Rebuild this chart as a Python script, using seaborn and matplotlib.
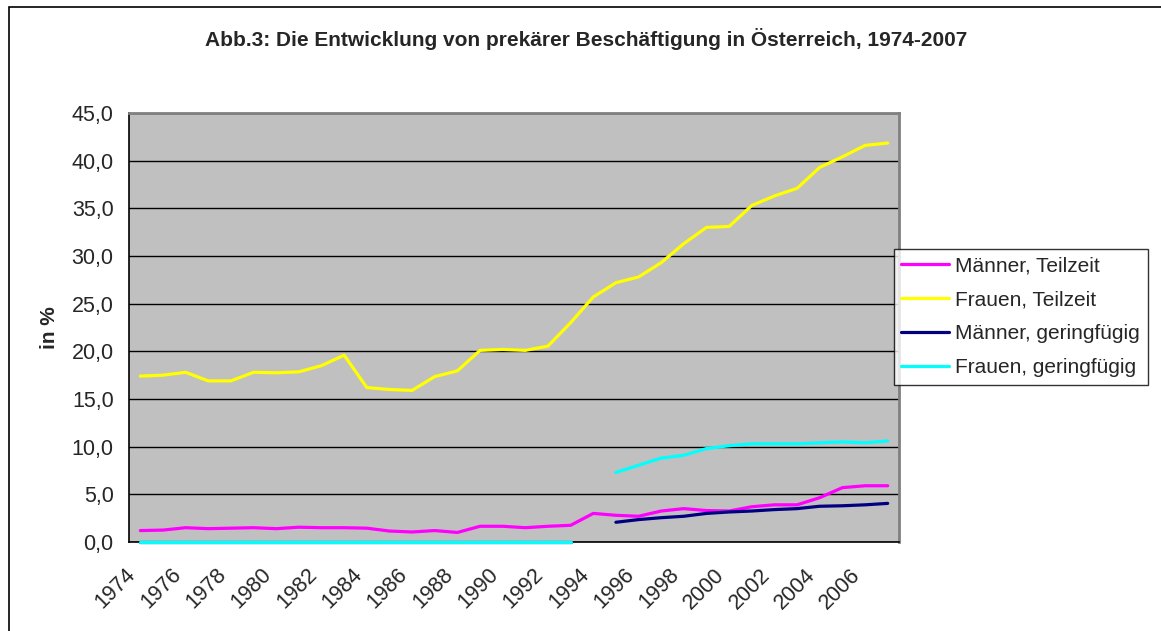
import numpy as np
import pandas as pd
import matplotlib
matplotlib.use('Agg')
import matplotlib.pyplot as plt
import seaborn as sns
from matplotlib.patches import Rectangle
from matplotlib.ticker import FuncFormatter, MultipleLocator
from matplotlib.transforms import ScaledTranslation

# Daten
jahre = list(range(1974, 2008))
maenner_teilzeit = [1.2, 1.25, 1.5, 1.4, 1.45, 1.5, 1.4, 1.55, 1.5, 1.5,
                    1.45, 1.15, 1.05, 1.2, 1.0, 1.65, 1.65, 1.5, 1.65, 1.75,
                    3.0, 2.8, 2.7, 3.25, 3.5, 3.3, 3.25, 3.7, 3.9, 3.9,
                    4.65, 5.7, 5.9, 5.9]
frauen_teilzeit = [17.4, 17.5, 17.8, 16.9, 16.9, 17.8, 17.75, 17.85, 18.5, 19.6,
                   16.2, 16.0, 15.9, 17.35, 17.95, 20.1, 20.2, 20.1, 20.55, 23.0,
                   25.7, 27.2, 27.8, 29.3, 31.3, 33.0, 33.1, 35.3, 36.3, 37.1,
                   39.3, 40.4, 41.6, 41.85]
maenner_geringfuegig = [0.0] * 20 + [np.nan] + [2.07, 2.35, 2.55, 2.7, 3.0, 3.15, 3.25,
                                                3.4, 3.5, 3.75, 3.8, 3.9, 4.05]
frauen_geringfuegig = [0.0] * 20 + [np.nan] + [7.3, 8.05, 8.8, 9.1, 9.8, 10.1, 10.3,
                                               10.3, 10.3, 10.4, 10.5, 10.4, 10.6]

serien = {
    'Männer, Teilzeit': maenner_teilzeit,
    'Frauen, Teilzeit': frauen_teilzeit,
    'Männer, geringfügig': maenner_geringfuegig,
    'Frauen, geringfügig': frauen_geringfuegig,
}
farben = {
    'Männer, Teilzeit': '#FF00FF',
    'Frauen, Teilzeit': '#FFFF00',
    'Männer, geringfügig': '#000080',
    'Frauen, geringfügig': '#00FFFF',
}

# Long-Format, Lücken (NaN) trennen Segmente
zeilen = []
for name, werte in serien.items():
    seg = 0
    for i, w in enumerate(werte):
        if np.isnan(w):
            seg += 1
            continue
        zeilen.append({'pos': i, 'wert': w, 'serie': name, 'segment': seg})
df = pd.DataFrame(zeilen)

sns.set_style('white')
plt.rcParams['font.family'] = ['Liberation Sans', 'DejaVu Sans']

fig = plt.figure(figsize=(11.61, 6.31), dpi=100)
W, H = 1161, 631
ax = fig.add_axes([129 / W, 1 - 542 / H, (899 - 129) / W, (542 - 113) / H])
ax.set_facecolor('#C0C0C0')

sns.lineplot(data=df, x='pos', y='wert', hue='serie', units='segment',
             estimator=None, palette=farben, hue_order=list(serien.keys()),
             linewidth=2.3, ax=ax, zorder=3, clip_on=False)

ax.set_xlim(-0.5, len(jahre) - 0.5)
ax.set_ylim(0, 45)
ax.yaxis.set_major_locator(MultipleLocator(5))
ax.yaxis.set_major_formatter(FuncFormatter(lambda v, p: f'{v:.1f}'.replace('.', ',')))
ax.grid(axis='y', color='black', linewidth=1.0)
ax.set_axisbelow(True)

# Kategorien-Achse: Striche zwischen den Kategorien, Beschriftung jedes 2. Jahr
ax.set_xticks(np.arange(-0.5, len(jahre), 1.0), minor=True)
ax.set_xticks(range(0, len(jahre), 2))
ax.set_xticklabels([str(j) for j in jahre[::2]], rotation=45, ha='right',
                   rotation_mode='anchor', fontsize=15.5)
ax.tick_params(axis='x', which='major', length=0, pad=16)
ax.tick_params(axis='x', which='minor', length=6, width=1, color='black', direction='out')
ax.tick_params(axis='y', length=6, width=1, color='black', direction='out', labelsize=15.5, pad=5)
versatz = ScaledTranslation(-15 / 100, 0, fig.dpi_scale_trans)
for lbl in ax.get_xticklabels():
    lbl.set_transform(lbl.get_transform() + versatz)

for side in ['top', 'right']:
    ax.spines[side].set_color('#808080')
    ax.spines[side].set_linewidth(2)
for side in ['left', 'bottom']:
    ax.spines[side].set_color('black')
    ax.spines[side].set_linewidth(1.2)

ax.set_xlabel('')
ax.set_ylabel('in %', fontsize=15, fontweight='bold', labelpad=9)

fig.text(586 / W, 1 - 39 / H,
         'Abb.3: Die Entwicklung von prekärer Beschäftigung in Österreich, 1974-2007',
         ha='center', va='center', fontsize=15, fontweight='bold')

leg = ax.legend(loc='upper left', bbox_to_anchor=(894 / W, 1 - 249 / H),
                bbox_transform=fig.transFigure, frameon=True, fancybox=False,
                fontsize=15, handlelength=2.3, handletextpad=0.3,
                labelspacing=0.72, borderpad=0.35, borderaxespad=0)
leg.get_frame().set_edgecolor('black')
leg.get_frame().set_linewidth(1)
leg.set_zorder(10)
for h in leg.get_lines():
    h.set_linewidth(2.3)

fig.patches.append(Rectangle((9 / W, -0.05), 1.1, 1 - 7 / H + 0.05,
                             transform=fig.transFigure, fill=False,
                             edgecolor='black', linewidth=1.2))

fig.savefig('out.png', dpi=100)
